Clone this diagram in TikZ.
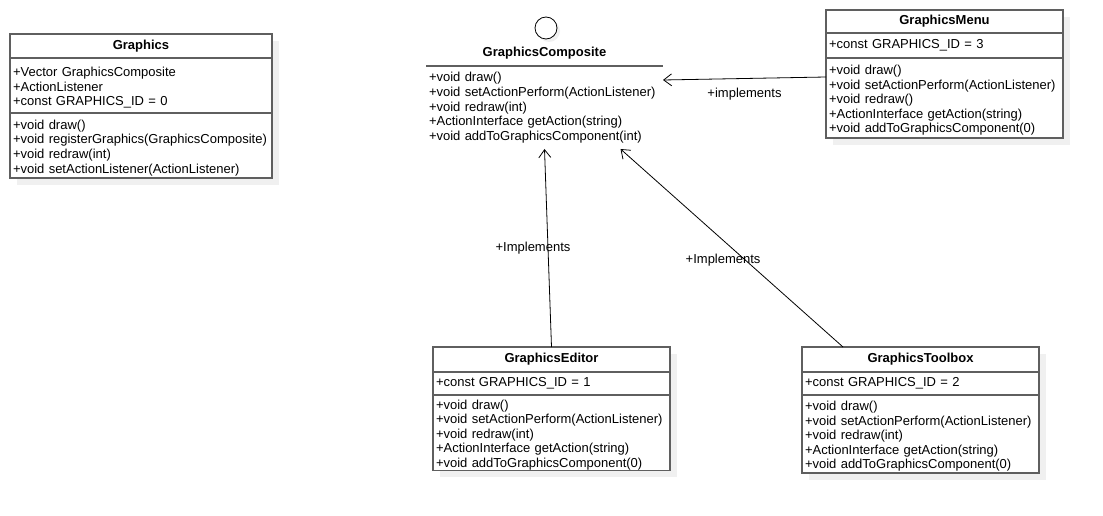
\documentclass[tikz,border=0pt]{standalone}
\usepackage{fontspec}
\setmainfont{Liberation Sans}
\usetikzlibrary{positioning,arrows.meta,backgrounds}
\definecolor{boxgray}{RGB}{95,95,95}
\definecolor{shadowgray}{RGB}{240,240,240}
\newcommand{\umlsize}{\fontsize{13}{14.6}\selectfont}
\tikzset{
   umlhead/.style={draw=boxgray, line width=1.2pt, fill=white, outer sep=0pt,
      inner xsep=3pt, inner ysep=0pt, text width=#1, align=center,
      font=\umlsize\bfseries},
   umlpart/.style={umlhead=#1, align=left, font=\umlsize},
   umlops/.style={umlpart=#1, text height=14pt},
   umlshadow/.style={fill=shadowgray},
   realizes/.style={draw=black, line width=0.8pt,
      -{Straight Barb[length=8pt,width=12pt]}},
   edgelabel/.style={font=\umlsize, inner sep=0pt}
}
\begin{document}
\begin{tikzpicture}[x=1pt, y=-1pt]
   \useasboundingbox (0,0) rectangle (1103,516);

   \node[umlhead=256pt, minimum height=24pt, anchor=north west] (gfx) at (10,34) {Graphics};
   \node[umlops=256pt, minimum height=55pt, below=0pt of gfx] (gfxattr)
      {+Vector GraphicsComposite\\+ActionListener\\+const GRAPHICS\_ID = 0};
   \node[umlops=256pt, minimum height=65pt, below=0pt of gfxattr] (gfxops)
      {+void draw()\\+void registerGraphics(GraphicsComposite)\\+void redraw(int)\\+void setActionListener(ActionListener)};

   \node[umlhead=231pt, minimum height=23pt, anchor=north west] (menu) at (826,10) {GraphicsMenu};
   \node[umlpart=231pt, minimum height=25pt, below=0pt of menu] (menuattr) {+const GRAPHICS\_ID = 3};
   \node[umlops=231pt, minimum height=80pt, below=0pt of menuattr] (menuops)
      {+void draw()\\+void setActionPerform(ActionListener)\\+void redraw()\\+ActionInterface getAction(string)\\+void addToGraphicsComponent(0)};

   \node[umlhead=231pt, minimum height=25pt, anchor=north west] (edit) at (433,347) {GraphicsEditor};
   \node[umlpart=231pt, minimum height=23pt, below=0pt of edit] (editattr) {+const GRAPHICS\_ID = 1};
   \node[umlops=231pt, minimum height=75pt, below=0pt of editattr] (editops)
      {+void draw()\\+void setActionPerform(ActionListener)\\+void redraw(int)\\+ActionInterface getAction(string)\\+void addToGraphicsComponent(0)};

   \node[umlhead=231pt, minimum height=25pt, anchor=north west] (tbox) at (802,347) {GraphicsToolbox};
   \node[umlpart=231pt, minimum height=23pt, below=0pt of tbox] (tboxattr) {+const GRAPHICS\_ID = 2};
   \node[umlops=231pt, minimum height=78pt, below=0pt of tboxattr] (tboxops)
      {+void draw()\\+void setActionPerform(ActionListener)\\+void redraw(int)\\+ActionInterface getAction(string)\\+void addToGraphicsComponent(0)};

   \node[circle, draw, line width=0.8pt, fill=white, minimum size=22pt, inner sep=0pt] (compicon) at (546,28) {};
   \node[font=\umlsize\bfseries, inner sep=0pt] (compname) at (544.5,53) {GraphicsComposite};
   \node[umlops=231pt, draw=none, fill=none, minimum height=79pt, anchor=north west] (compops) at (426,66)
      {+void draw()\\+void setActionPerform(ActionListener)\\+void redraw(int)\\+ActionInterface getAction(string)\\+void addToGraphicsComponent(int)};
   \draw[boxgray, line width=1.2pt] (compops.north west) -- (compops.north east);

   \draw[realizes] ([yshift=-19pt]menuops.north west) -- node[edgelabel, midway, yshift=-16pt] {+implements}
      ([yshift=-14pt]compops.north east);
   \draw[realizes] (edit.north) -- node[edgelabel, midway, xshift=-15pt] {+Implements}
      ([yshift=-4pt]compops.south);
   \draw[realizes] ([xshift=41pt]tbox.north west) -- node[edgelabel, pos=0.44, xshift=-22pt] {+Implements}
      ([xshift=76pt, yshift=-4pt]compops.south);

   \begin{scope}[on background layer]
      \fill[white] (0,0) rectangle (1103,516);
      \foreach \hd/\ft in {gfx/gfxops, menu/menuops, edit/editops, tbox/tboxops}
         \fill[umlshadow] ([shift={(7,7)}]\hd.north west) rectangle ([shift={(7,7)}]\ft.south east);
      \fill[umlshadow] ([shift={(3,3)}]compicon.center) circle (11pt);
   \end{scope}
\end{tikzpicture}
\end{document}
